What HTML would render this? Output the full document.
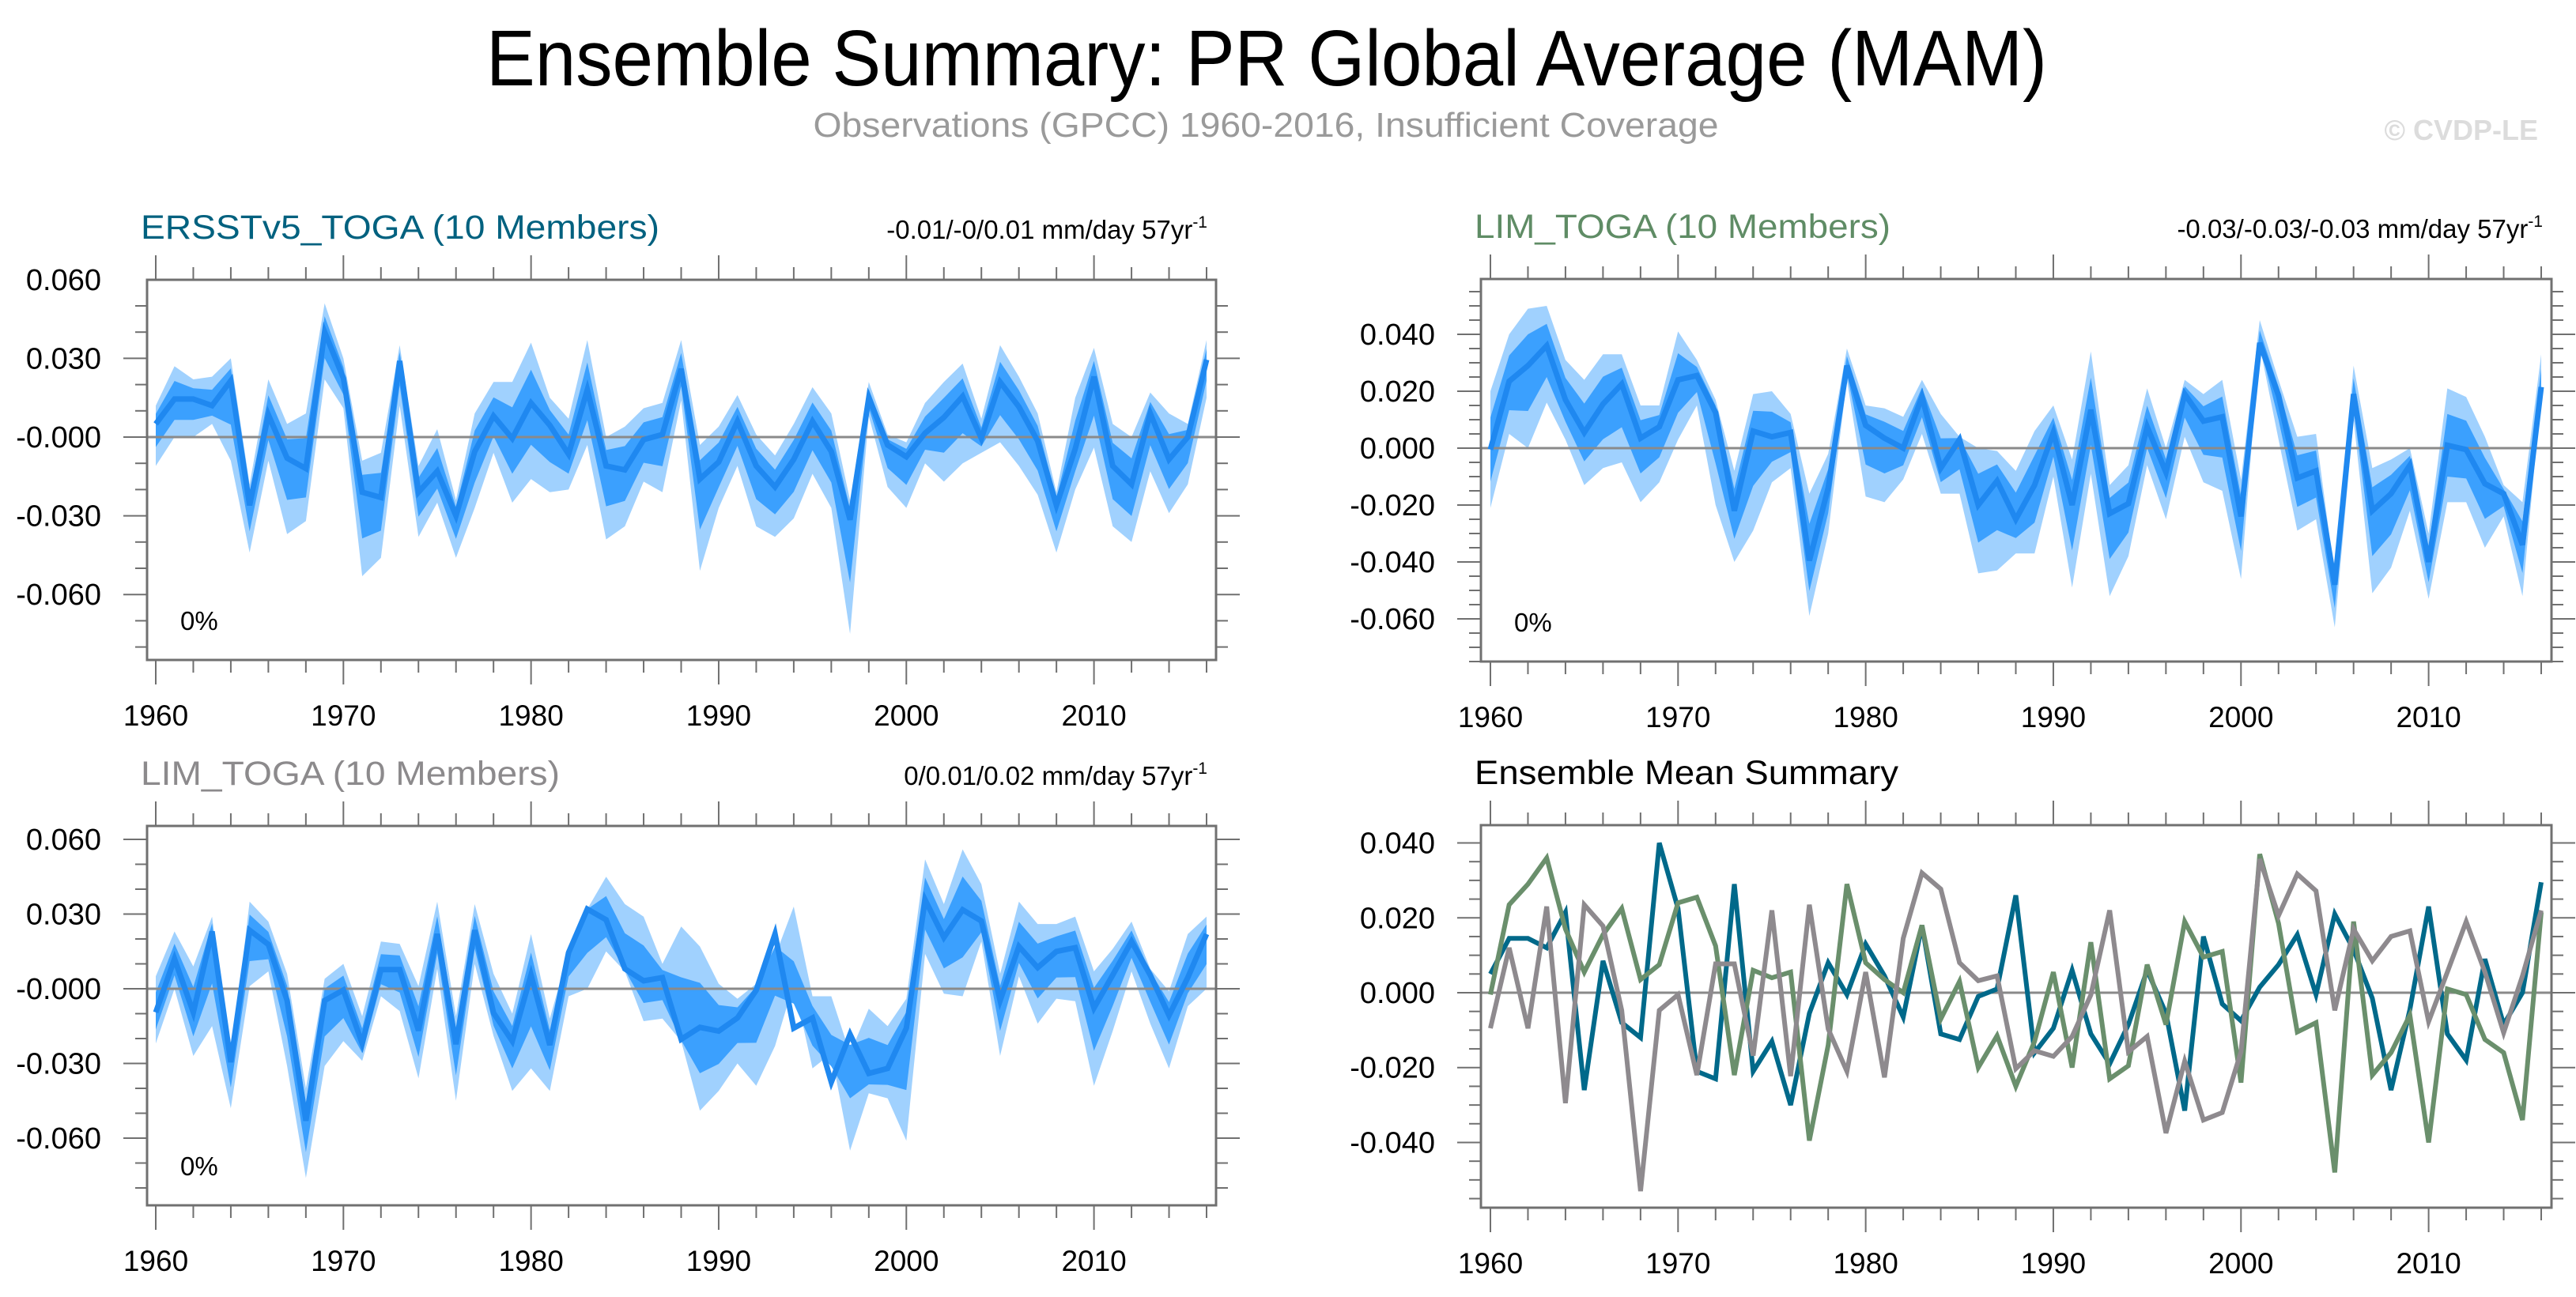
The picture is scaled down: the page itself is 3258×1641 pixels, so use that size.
<!DOCTYPE html>
<html><head><meta charset="utf-8"><style>
html,body{margin:0;padding:0;background:#fff;}
svg{display:block;font-family:"Liberation Sans",Arial,sans-serif;}
</style></head><body>
<svg id="chart" width="3258" height="1641" viewBox="0 0 3258 1641" xmlns="http://www.w3.org/2000/svg">
<text x="1602" y="108" text-anchor="middle" font-size="100" textLength="1974" lengthAdjust="spacingAndGlyphs" fill="#000">Ensemble Summary: PR Global Average (MAM)</text>
<text x="1601" y="173" text-anchor="middle" font-size="44" textLength="1145" lengthAdjust="spacingAndGlyphs" fill="#9a9a9a">Observations (GPCC) 1960-2016, Insufficient Coverage</text>
<text x="3210" y="177" text-anchor="end" font-size="36" font-weight="bold" fill="#dcdcdc">© CVDP-LE</text>
</svg>
<script>
const years = [];
for (let y = 1960; y <= 2016; y++) years.push(y);
const ersstMean = [0.005,0.0145,0.0145,0.012,0.0215,-0.026,0.0085,-0.008,-0.012,0.040,0.0225,-0.021,-0.023,0.029,-0.021,-0.013,-0.030,-0.0055,0.008,-0.0005,0.013,0.0045,-0.0065,0.018,-0.011,-0.0125,-0.001,0.001,0.026,-0.016,-0.0095,0.006,-0.011,-0.019,-0.0085,0.006,-0.0055,-0.0315,0.015,-0.003,-0.0075,0.0015,0.0075,0.0155,-0.0005,0.021,0.0115,-0.0015,-0.026,-0.0045,0.023,-0.011,-0.018,0.009,-0.0085,0,0.0295];
const limMean = [-0.0005,0.0235,0.029,0.036,0.017,0.0055,0.0155,0.0225,0.0035,0.0075,0.024,0.0255,0.0125,-0.022,0.006,0.004,0.0055,-0.0395,-0.014,0.029,0.008,0.0035,0,0.018,-0.007,0.003,-0.020,-0.0115,-0.025,-0.013,0.0055,-0.020,0.0135,-0.023,-0.0195,0.0075,-0.0085,0.019,0.0095,0.011,-0.024,0.037,0.0185,-0.0105,-0.008,-0.048,0.019,-0.022,-0.016,-0.006,-0.040,0.001,-0.0005,-0.0125,-0.016,-0.034,0.0215];
const lim2Mean = [-0.0095,0.012,-0.0095,0.023,-0.0295,0.0235,0.0178,-0.0047,-0.053,-0.0047,-0.0005,-0.022,0.0077,0.0077,-0.0168,0.022,-0.0223,0.0235,-0.0097,-0.021,0.0055,-0.0226,0.0145,0.032,0.0277,0.008,0.0032,0.0045,-0.0203,-0.0155,-0.017,-0.0117,-0.0006,0.022,-0.0158,-0.0117,-0.0375,-0.0183,-0.034,-0.032,-0.0158,0.0357,0.0206,0.0317,0.0272,-0.0047,0.017,0.0085,0.015,0.0165,-0.0077,0.0055,0.019,0.0055,-0.0107,0.0045,0.022];
const ersstHi = [0.012,0.027,0.022,0.023,0.030,-0.018,0.022,0.005,0.009,0.051,0.030,-0.009,-0.006,0.035,-0.011,0.003,-0.024,0.009,0.021,0.021,0.036,0.015,0.007,0.037,0,0.004,0.011,0.013,0.037,-0.003,0.004,0.016,0.001,-0.007,0.005,0.019,0.009,-0.024,0.021,0.001,-0.002,0.013,0.021,0.028,0.007,0.035,0.023,0.009,-0.021,0.015,0.034,0.005,0,0.017,0.009,0.005,0.037];
const ersstLo = [-0.011,0,0,0.005,-0.009,-0.044,-0.009,-0.037,-0.032,0.022,0.011,-0.053,-0.046,0.012,-0.038,-0.025,-0.046,-0.027,-0.006,-0.025,-0.016,-0.021,-0.020,-0.003,-0.039,-0.034,-0.017,-0.021,0.014,-0.051,-0.027,-0.011,-0.034,-0.038,-0.031,-0.014,-0.027,-0.075,0.008,-0.019,-0.027,-0.010,-0.017,-0.010,-0.006,-0.002,-0.011,-0.022,-0.044,-0.020,-0.004,-0.034,-0.040,-0.013,-0.029,-0.018,0.015];
const limHi = [0.020,0.040,0.049,0.050,0.031,0.024,0.033,0.033,0.015,0.015,0.041,0.031,0.017,-0.008,0.019,0.020,0.012,-0.016,-0.002,0.035,0.015,0.014,0.011,0.024,0.012,0.004,0,-0.001,-0.008,0.006,0.015,-0.004,0.034,-0.013,-0.006,0.021,0,0.024,0.019,0.024,-0.011,0.045,0.024,0.004,0.005,-0.045,0.029,-0.007,-0.004,0,-0.030,0.021,0.018,0.004,-0.013,-0.019,0.033];
const limLo = [-0.021,0.005,0,0.016,0.003,-0.013,-0.007,-0.005,-0.019,-0.012,0.003,0.015,-0.020,-0.040,-0.029,-0.012,-0.007,-0.059,-0.030,0.024,-0.017,-0.019,-0.011,0.005,-0.016,-0.016,-0.044,-0.043,-0.037,-0.037,-0.010,-0.049,-0.009,-0.052,-0.038,-0.006,-0.025,0.004,-0.012,-0.015,-0.046,0.036,0.003,-0.029,-0.025,-0.063,0.010,-0.051,-0.042,-0.022,-0.053,-0.019,-0.019,-0.035,-0.024,-0.052,0.019];
const lim2Hi = [0.005,0.023,0.009,0.029,-0.029,0.035,0.027,0.006,-0.040,0.004,0.010,-0.011,0.019,0.018,0.001,0.035,-0.011,0.034,0.006,-0.010,0.022,-0.012,0.015,0.032,0.045,0.034,0.029,0.010,0.025,0.017,0.002,-0.004,0.002,0.013,0.033,-0.003,-0.003,-0.026,-0.008,-0.015,-0.004,0.052,0.034,0.056,0.042,0.006,0.035,0.026,0.026,0.029,0.007,0.016,0.027,0.008,-0.001,0.022,0.029];
const lim2Lo = [-0.022,0,-0.027,-0.015,-0.048,0.001,0.007,-0.031,-0.076,-0.031,-0.021,-0.029,-0.003,-0.009,-0.036,0.008,-0.045,0.010,-0.019,-0.041,-0.032,-0.041,-0.003,0,0.015,0.007,-0.013,-0.012,-0.021,-0.049,-0.041,-0.030,-0.039,-0.023,0.002,-0.032,-0.026,-0.065,-0.042,-0.044,-0.061,0.014,-0.002,-0.003,0.019,-0.027,0.005,-0.014,-0.004,-0.005,-0.039,-0.017,0.007,-0.014,-0.032,-0.007,0];
const xTickLabels = ["1960","1970","1980","1990","2000","2010"];
const yTicksA = [0.06,0.03,0,-0.03,-0.06];
const yLabelsA = ["0.060","0.030","-0.000","-0.030","-0.060"];
const yTicksB = [0.04,0.02,0,-0.02,-0.04,-0.06];
const yLabelsB = ["0.040","0.020","0.000","-0.020","-0.040","-0.060"];
const yLabelsD = ["0.040","0.020","0.000","-0.020","-0.040"];

const NS = "http://www.w3.org/2000/svg";
const svg = document.getElementById('chart');
function mk(tag, attrs, parent) {
  const e = document.createElementNS(NS, tag);
  for (const k in attrs) e.setAttribute(k, attrs[k]);
  (parent || svg).appendChild(e);
  return e;
}

function panel(cfg) {
  const g = mk('g', {});
  
  
  const X = yr => cfg.xa + (yr - 1960) * (cfg.xb - cfg.xa) / 56;
  const Y = v => cfg.y0 - v * cfg.k;
  const vTop = (cfg.y0 - cfg.top) / cfg.k, vBot = (cfg.y0 - cfg.bot) / cfg.k;
  mk('rect', {x: cfg.left, y: cfg.top, width: cfg.right - cfg.left, height: cfg.bot - cfg.top, fill: '#fff'}, g);
  if (cfg.bands) {
    const hi = cfg.hi, lo = cfg.lo, m = cfg.mean;
    let d = '';
    years.forEach((yr, i) => d += (i ? 'L' : 'M') + X(yr).toFixed(1) + ',' + Y(hi[i]).toFixed(1));
    for (let i = years.length - 1; i >= 0; i--) d += 'L' + X(years[i]).toFixed(1) + ',' + Y(lo[i]).toFixed(1);
    const outer = mk('path', {d: d + 'Z', fill: '#a0d1fe'}, g);
    
    
    let d2 = '';
    years.forEach((yr, i) => d2 += (i ? 'L' : 'M') + X(yr).toFixed(1) + ',' + Y(m[i] + 0.55 * (hi[i] - m[i])).toFixed(1));
    for (let i = years.length - 1; i >= 0; i--) d2 += 'L' + X(years[i]).toFixed(1) + ',' + Y(m[i] + 0.55 * (lo[i] - m[i])).toFixed(1);
    const inner = mk('path', {d: d2 + 'Z', fill: '#3ba0fe'}, g);
    
    
  }
  const zl = mk('line', {x1: cfg.left, x2: cfg.right, y1: Y(0), y2: Y(0), stroke: '#8a8a8a', 'stroke-width': 3}, g);
  
  
  cfg.series.forEach(s => {
    const pts = years.map((yr, i) => X(yr).toFixed(1) + ',' + Y(s.v[i]).toFixed(1)).join(' ');
    const pl = mk('polyline', {points: pts, fill: 'none', stroke: s.c, 'stroke-width': s.w, 'stroke-linejoin': 'miter'}, g);
    
    
  });
  const fr = mk('rect', {x: cfg.left, y: cfg.top, width: cfg.right - cfg.left, height: cfg.bot - cfg.top, fill: 'none', stroke: '#707070', 'stroke-width': 3}, g);
  
  
  for (let yr = 1960; yr <= 2016; yr += 2) {
    const maj = (yr % 10 === 0), L = maj ? 31 : 16;
    mk('line', {x1: X(yr), x2: X(yr), y1: cfg.bot, y2: cfg.bot + L, stroke: '#707070', 'stroke-width': 2}, g);
    mk('line', {x1: X(yr), x2: X(yr), y1: cfg.top, y2: cfg.top - L, stroke: '#707070', 'stroke-width': 2}, g);
  }
  xTickLabels.forEach(lab => {
    const t = mk('text', {x: X(+lab), y: cfg.bot + 83, 'text-anchor': 'middle', 'font-size': 37}, g);
    t.textContent = lab;
    
    
  });
  const st = cfg.minor;
  for (let v = Math.ceil(vBot / st) * st; v <= vTop + 1e-9; v += st) {
    const isMaj = cfg.yt.some(t => Math.abs(t - v) < 1e-6), L = isMaj ? 30 : 15;
    mk('line', {x1: cfg.left, x2: cfg.left - L, y1: Y(v), y2: Y(v), stroke: '#707070', 'stroke-width': 2}, g);
    mk('line', {x1: cfg.right, x2: cfg.right + L, y1: Y(v), y2: Y(v), stroke: '#707070', 'stroke-width': 2}, g);
  }
  cfg.yt.forEach((v, i) => {
    const t = mk('text', {x: cfg.left - 58, y: Y(v) + 13, 'text-anchor': 'end', 'font-size': 38}, g);
    t.textContent = cfg.yl[i];
    
    
  });
  const tt = mk('text', {x: cfg.left - 8, y: cfg.top - 52, 'font-size': 43, fill: cfg.tc, textLength: cfg.tlen, lengthAdjust: 'spacingAndGlyphs'}, g);
  tt.textContent = cfg.title;
  
  
  if (cfg.trend) {
    const tr = mk('text', {x: cfg.right - 11, y: cfg.top - 52, 'text-anchor': 'end', 'font-size': 33}, g);
    
    
    tr.textContent = cfg.trend + ' mm/day 57yr';
    const sup = mk('tspan', {'font-size': 21, dy: -14}, tr);
    sup.textContent = '-1';
  }
  if (cfg.pct) {
    const p = mk('text', {x: cfg.left + 42, y: cfg.bot - 38, 'font-size': 33}, g);
    p.textContent = '0%';
    
    
  }
}

const BL = '#1f88f0';
panel({name:'ersst-panel', left:186, right:1538, top:354, bot:835, xa:197, xb:1526, y0:553, k:3320, minor:0.01, yt:yTicksA, yl:yLabelsA,
  bands:true, hi:ersstHi, lo:ersstLo, mean:ersstMean, series:[{v:ersstMean,c:BL,w:7,n:'ensemble-mean-line'}],
  title:'ERSSTv5_TOGA (10 Members)', tc:'#00617f', tlen:656, trend:'-0.01/-0/0.01', pct:true});
panel({name:'lim-toga-panel', left:1873, right:3227, top:353, bot:837, xa:1885, xb:3214, y0:567, k:3600, minor:0.005, yt:yTicksB, yl:yLabelsB,
  bands:true, hi:limHi, lo:limLo, mean:limMean, series:[{v:limMean,c:BL,w:7,n:'ensemble-mean-line'}],
  title:'LIM_TOGA (10 Members)', tc:'#5f8c65', tlen:526, trend:'-0.03/-0.03/-0.03', pct:true});
panel({name:'lim-toga-2-panel', left:186, right:1538, top:1045, bot:1525, xa:197, xb:1526, y0:1251, k:3150, minor:0.01, yt:yTicksA, yl:yLabelsA,
  bands:true, hi:lim2Hi, lo:lim2Lo, mean:lim2Mean, series:[{v:lim2Mean,c:BL,w:7,n:'ensemble-mean-line'}],
  title:'LIM_TOGA (10 Members)', tc:'#8c8a8c', tlen:530, trend:'0/0.01/0.02', pct:true});
panel({name:'ensemble-mean-summary-panel', left:1873, right:3227, top:1044, bot:1528, xa:1885, xb:3214, y0:1256, k:4737, minor:0.005, yt:[0.04,0.02,0,-0.02,-0.04], yl:yLabelsD,
  bands:false, series:[{v:ersstMean,c:'#00698a',w:6,n:'ersst-mean-line'},{v:limMean,c:'#6a8f6c',w:6,n:'lim-toga-mean-line'},{v:lim2Mean,c:'#8e8a8e',w:6,n:'lim-toga-2-mean-line'}],
  title:'Ensemble Mean Summary', tc:'#000', tlen:536, trend:null, pct:false});
</script>
</body></html>
